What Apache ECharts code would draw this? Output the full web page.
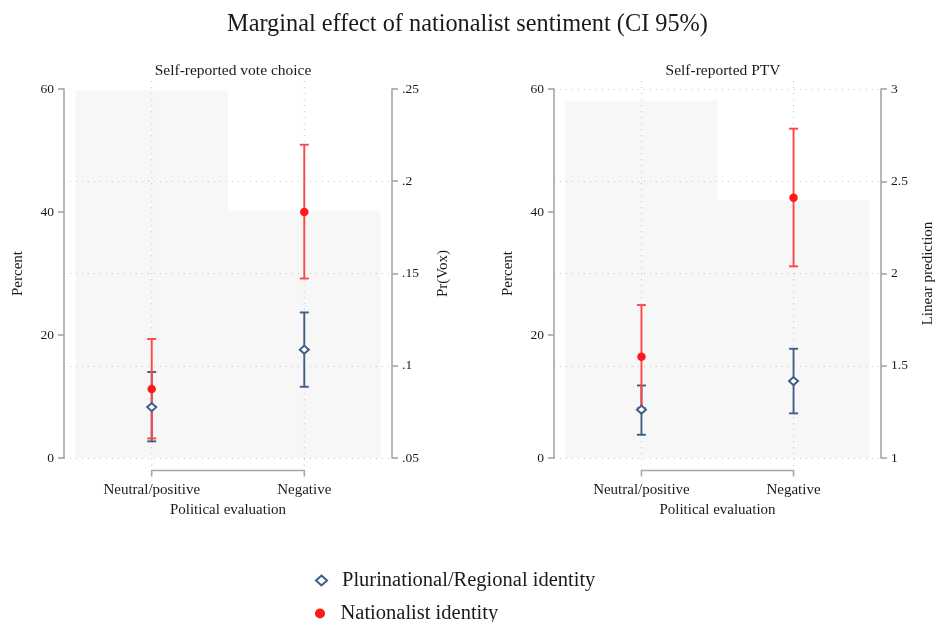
<!DOCTYPE html>
<html>
<head>
<meta charset="utf-8">
<script src="https://cdn.jsdelivr.net/npm/echarts@6/dist/echarts.min.js"></script>
<style>
  html, body { margin: 0; padding: 0; background: #fff; }
  #chart { width: 935px; height: 622px; }
</style>
</head>
<body>
<div id="chart"></div>
<script>
// ---------------- DATA ----------------
const categories = ['Neutral/positive', 'Negative'];
const seriesNames = ['Plurinational/Regional identity', 'Nationalist identity'];
const panelTitles = ['Self-reported vote choice', 'Self-reported PTV'];
const rightAxisNames = ['Pr(Vox)', 'Linear prediction'];

// histogram (percent of respondents in each category)
const histVote = [59.8, 40.2];
const histPtv = [58.1, 41.9];

// Panel 1: Pr(Vox)
const voteRegionalEst = [0.0776, 0.1087];
const voteRegionalLo  = [0.0590, 0.0886];
const voteRegionalHi  = [0.0966, 0.1289];
const voteNatEst = [0.0874, 0.1833];
const voteNatLo  = [0.0606, 0.1473];
const voteNatHi  = [0.1145, 0.2198];

// Panel 2: linear prediction (PTV)
const ptvRegionalEst = [1.262, 1.417];
const ptvRegionalLo  = [1.126, 1.242];
const ptvRegionalHi  = [1.393, 1.592];
const ptvNatEst = [1.549, 2.411];
const ptvNatLo  = [1.270, 2.039];
const ptvNatHi  = [1.829, 2.785];

// axis tick settings
const percentTicks = { min: 0, max: 60, interval: 20 };
const prTicks = { min: 0.05, max: 0.25, interval: 0.05 };
const linTicks = { min: 1, max: 3, interval: 0.5 };

// ---------------- STYLE ----------------
const FONT = 'Liberation Serif';
const TXT = '#1a1a1a';
const AXIS = '#a6a6a6';
const GRIDC = '#c4c4c4';
const BLUE = '#3e5f85';
const RED = '#ff1a1a';
const RED_CI = '#ff4545';
const BARC = '#f7f7f7';
const XMIN = -0.575, XMAX = 1.575;

const chart = echarts.init(document.getElementById('chart'), null, { renderer: 'canvas' });

function fmtPr(v) { return String(+v.toFixed(2)).replace(/^0\./, '.'); }
function fmtLin(v) { return String(+v.toFixed(2)); }

function errorBar(color) {
  return function (params, api) {
    const x = api.value(0);
    const pLo = api.coord([x, api.value(1)]);
    const pHi = api.coord([x, api.value(2)]);
    const w = 4.5;
    const st = { stroke: color, lineWidth: 1.9 };
    return {
      type: 'group',
      children: [
        { type: 'line', shape: { x1: pHi[0], y1: pHi[1], x2: pLo[0], y2: pLo[1] }, style: st },
        { type: 'line', shape: { x1: pHi[0] - w, y1: pHi[1], x2: pHi[0] + w, y2: pHi[1] }, style: st },
        { type: 'line', shape: { x1: pLo[0] - w, y1: pLo[1], x2: pLo[0] + w, y2: pLo[1] }, style: st }
      ]
    };
  };
}

function histItem(params, api) {
  const x = api.value(0), v = api.value(1);
  const p0 = api.coord([x - 0.5, v]);
  const p1 = api.coord([x + 0.5, 0]);
  return { type: 'rect', shape: { x: p0[0], y: p0[1], width: p1[0] - p0[0], height: p1[1] - p0[1] },
           style: { fill: BARC } };
}

function vGridItem(params, api) {
  const x = api.value(0);
  const pTop = api.coord([x, percentTicks.max]);
  const pBot = api.coord([x, percentTicks.min]);
  return { type: 'line', shape: { x1: pTop[0], y1: pTop[1] - 8, x2: pBot[0], y2: pBot[1] + 9 },
           style: { stroke: GRIDC, lineWidth: 1, lineDash: [1, 5] } };
}

function bracketItem(params, api) {
  const a = api.coord([api.value(0), percentTicks.min]);
  const b = api.coord([api.value(2), percentTicks.min]);
  const y = a[1] + 12.5;
  return { type: 'polyline', shape: { points: [[a[0], y + 6], [a[0], y], [b[0], y], [b[0], y + 6]] },
           style: { stroke: AXIS, lineWidth: 1.6, fill: null } };
}

const grids = [
  { left: 64, top: 89, width: 328, height: 369, containLabel: false, outerBoundsMode: 'none' },
  { left: 554, top: 89, width: 327, height: 369, containLabel: false, outerBoundsMode: 'none' }
];

const xAxes = [0, 1].map(g => ({
  type: 'value', gridIndex: g, min: XMIN, max: XMAX,
  axisLine: { show: false }, axisTick: { show: false }, splitLine: { show: false },
  axisLabel: { customValues: categories.map((c, i) => i), formatter: v => categories[Math.round(v)],
               margin: 25, color: TXT, fontFamily: FONT, fontSize: 15 },
  name: 'Political evaluation', nameLocation: 'middle', nameGap: 42,
  nameTextStyle: { color: TXT, fontFamily: FONT, fontSize: 15 }
}));

function leftY(g) {
  return {
    type: 'value', gridIndex: g, position: 'left',
    min: percentTicks.min, max: percentTicks.max, interval: percentTicks.interval,
    axisLine: { show: true, onZero: false, lineStyle: { color: AXIS, width: 1.6 } },
    axisTick: { show: true, length: 6, inside: false, lineStyle: { color: AXIS, width: 1.6 } },
    splitLine: { show: false },
    axisLabel: { margin: 10, color: TXT, fontFamily: FONT, fontSize: 13.5 },
    name: 'Percent', nameLocation: 'middle', nameRotate: 90, nameGap: 38,
    nameTextStyle: { color: TXT, fontFamily: FONT, fontSize: 15 }
  };
}
function rightY(g, ticks, fmt, name, showMax, gap) {
  return {
    type: 'value', gridIndex: g, position: 'right',
    min: ticks.min, max: ticks.max, interval: ticks.interval,
    axisLine: { show: true, onZero: false, lineStyle: { color: AXIS, width: 1.6 } },
    axisTick: { show: true, length: 6, inside: false, lineStyle: { color: AXIS, width: 1.6 } },
    splitLine: { show: true, showMaxLine: showMax, lineStyle: { color: GRIDC, width: 1, type: [1, 5] } },
    axisLabel: { margin: 10, color: TXT, fontFamily: FONT, fontSize: 13.5, formatter: fmt },
    name: name, nameLocation: 'middle', nameRotate: 90, nameGap: gap,
    nameTextStyle: { color: TXT, fontFamily: FONT, fontSize: 15 }
  };
}

const yAxes = [
  leftY(0), rightY(0, prTicks, fmtPr, rightAxisNames[0], false, 44),
  leftY(1), rightY(1, linTicks, fmtLin, rightAxisNames[1], true, 40)
];

function panelSeries(g, hist, regEst, regLo, regHi, natEst, natLo, natHi) {
  const pctAxis = g * 2, predAxis = g * 2 + 1;
  return [
    { type: 'custom', xAxisIndex: g, yAxisIndex: pctAxis, z: -2, silent: true,
      renderItem: histItem, encode: { x: 0, y: 1 },
      data: hist.map((v, i) => [i, v]) },
    { type: 'custom', xAxisIndex: g, yAxisIndex: pctAxis, z: 1, silent: true, clip: false,
      renderItem: vGridItem, encode: { x: 0, y: 1 },
      data: categories.map((c, i) => [i, 0]) },
    { type: 'custom', xAxisIndex: g, yAxisIndex: pctAxis, z: 1, silent: true, clip: false,
      renderItem: bracketItem, encode: { x: [0, 2], y: 1 },
      data: [[0, 0, categories.length - 1]] },
    { type: 'custom', xAxisIndex: g, yAxisIndex: predAxis, z: 3, silent: true,
      renderItem: errorBar(BLUE), encode: { x: 0, y: [1, 2] },
      data: regEst.map((v, i) => [i, regLo[i], regHi[i]]) },
    { type: 'custom', xAxisIndex: g, yAxisIndex: predAxis, z: 4, silent: true,
      renderItem: errorBar(RED_CI), encode: { x: 0, y: [1, 2] },
      data: natEst.map((v, i) => [i, natLo[i], natHi[i]]) },
    { type: 'scatter', name: seriesNames[1], xAxisIndex: g, yAxisIndex: predAxis, z: 5,
      symbol: 'circle', symbolSize: 8.5, itemStyle: { color: RED, opacity: 1 },
      data: natEst.map((v, i) => [i, v]) },
    { type: 'scatter', name: seriesNames[0], xAxisIndex: g, yAxisIndex: predAxis, z: 6,
      symbol: 'emptyDiamond', symbolSize: [9, 8],
      itemStyle: { color: BLUE, borderColor: BLUE, borderWidth: 1.7, opacity: 1 },
      data: regEst.map((v, i) => [i, v]) }
  ];
}

function legendRow(name, top) {
  return {
    data: [name], orient: 'vertical', left: 310, top: top,
    itemWidth: 11, itemHeight: 10,
    textStyle: { color: TXT, fontFamily: FONT, fontSize: 20.5, padding: [0, 0, 0, 10] },
    selectedMode: false
  };
}

const option = {
  backgroundColor: '#ffffff',
  animation: false,
  title: [
    { text: 'Marginal effect of nationalist sentiment (CI 95%)', left: 'center', top: 8,
      textStyle: { color: TXT, fontFamily: FONT, fontSize: 24.3, fontWeight: 'normal' } },
    { text: panelTitles[0], left: 228, top: 58, textAlign: 'center',
      textStyle: { color: TXT, fontFamily: FONT, fontSize: 15.5, fontWeight: 'normal' } },
    { text: panelTitles[1], left: 718, top: 58, textAlign: 'center',
      textStyle: { color: TXT, fontFamily: FONT, fontSize: 15.5, fontWeight: 'normal' } }
  ],
  legend: [legendRow(seriesNames[0], 565), legendRow(seriesNames[1], 598)],
  grid: grids,
  xAxis: xAxes,
  yAxis: yAxes,
  series: [].concat(
    panelSeries(0, histVote, voteRegionalEst, voteRegionalLo, voteRegionalHi, voteNatEst, voteNatLo, voteNatHi),
    panelSeries(1, histPtv, ptvRegionalEst, ptvRegionalLo, ptvRegionalHi, ptvNatEst, ptvNatLo, ptvNatHi)
  )
};
chart.setOption(option);
</script>
</body>
</html>
